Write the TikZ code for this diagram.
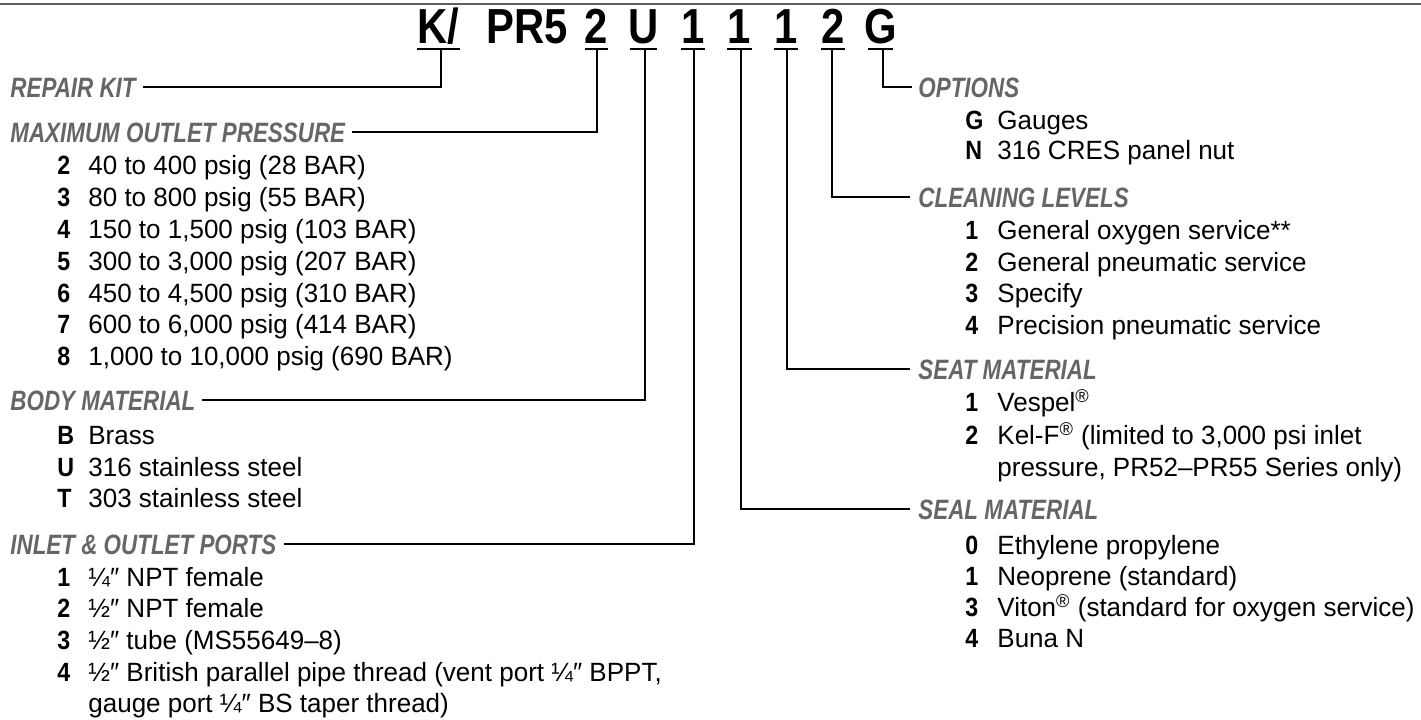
\documentclass[tikz,border=0pt]{standalone}
\usepackage{fontspec}
\setmainfont{Liberation Sans}
\newfontfamily\bodyf[FakeStretch=0.985]{Liberation Sans}
\newfontfamily\numf[FakeStretch=0.88]{Liberation Sans}
\newfontfamily\labf[FakeStretch=0.8]{Liberation Sans}
\newfontfamily\codef[FakeStretch=0.85]{Liberation Sans}
\definecolor{labgray}{RGB}{102,102,102}
\definecolor{rulegray}{RGB}{95,95,95}
\newcommand\reg{\textsuperscript{®}}
\begin{document}
\begin{tikzpicture}[x=0.5pt,y=-0.5pt,
  lab/.style={font=\labf\bfseries\itshape\fontsize{14}{16}\selectfont, text=labgray, inner sep=0pt, anchor=base west},
  num/.style={font=\numf\bfseries\fontsize{13.2}{15}\selectfont, inner sep=0pt, anchor=base west},
  txt/.style={font=\bodyf\fontsize{13.2}{15}\selectfont, inner sep=0pt, anchor=base west},
  code/.style={font=\codef\bfseries\fontsize{24.6}{28}\selectfont, inner sep=0pt, anchor=base},
  conn/.style={line width=0.9pt, draw=black},
  uline/.style={line width=1.1pt, draw=black},
  rulestyle/.style={line width=1.1pt, draw=rulegray}]
\useasboundingbox (0,0) rectangle (1421,719);
% top rule
\draw[rulestyle] (0,4) -- (1421,4);
% code characters
\node[code] (cK)  at (438.5,43) {K/};
\node[code] (cPR) at (527.5,43) {PR5};
\node[code] (c2)  at (596.5,43) {2};
\node[code] (cU)  at (643.5,43) {U};
\node[code] (c1a) at (693,43) {1};
\node[code] (c1b) at (739.5,43) {1};
\node[code] (c1c) at (786,43) {1};
\node[code] (c2b) at (833,43) {2};
\node[code] (cG)  at (880.5,43) {G};
% underlines
\draw[uline] (417,49) -- (460,49);
\draw[uline] (585,49) -- (608,49);
\draw[uline] (630,49) -- (657,49);
\draw[uline] (681,49) -- (705,49);
\draw[uline] (727,49) -- (752,49);
\draw[uline] (774,49) -- (798,49);
\draw[uline] (821,49) -- (845,49);
\draw[uline] (868,49) -- (893,49);
\coordinate (tK)  at (441,49);
\coordinate (t2)  at (597,49);
\coordinate (tU)  at (645,49);
\coordinate (t1a) at (694,49);
\coordinate (t1b) at (741,49);
\coordinate (t1c) at (787,49);
\coordinate (t2b) at (832,49);
\coordinate (tG)  at (883,49);
% ---------- left labels ----------
\node[lab] (repair) at (10,97) {REPAIR KIT};
\node[lab] (maxp)   at (10,142) {MAXIMUM OUTLET PRESSURE};
\node[num] (p2n) at (57,174) {2}; \node[txt] (p2t) at (88,174) {40 to 400 psig (28 BAR)};
\node[num] (p3n) at (57,206) {3}; \node[txt] (p3t) at (88,206) {80 to 800 psig (55 BAR)};
\node[num] (p4n) at (57,238) {4}; \node[txt] (p4t) at (88,238) {150 to 1,500 psig (103 BAR)};
\node[num] (p5n) at (57,270) {5}; \node[txt] (p5t) at (88,270) {300 to 3,000 psig (207 BAR)};
\node[num] (p6n) at (57,302) {6}; \node[txt] (p6t) at (88,302) {450 to 4,500 psig (310 BAR)};
\node[num] (p7n) at (57,333) {7}; \node[txt] (p7t) at (88,333) {600 to 6,000 psig (414 BAR)};
\node[num] (p8n) at (57,365) {8}; \node[txt] (p8t) at (88,365) {1,000 to 10,000 psig (690 BAR)};
\node[lab] (body) at (10,410) {BODY MATERIAL};
\node[num] (bBn) at (57,444) {B}; \node[txt] (bBt) at (88,444) {Brass};
\node[num] (bUn) at (57,476) {U}; \node[txt] (bUt) at (88,476) {316 stainless steel};
\node[num] (bTn) at (57,507) {T}; \node[txt] (bTt) at (88,507) {303 stainless steel};
\node[lab] (inlet) at (10,554) {INLET \& OUTLET PORTS};
\node[num] (i1n) at (57,586) {1}; \node[txt] (i1t) at (88,586) {¼″ NPT female};
\node[num] (i2n) at (57,617) {2}; \node[txt] (i2t) at (88,617) {½″ NPT female};
\node[num] (i3n) at (57,649) {3}; \node[txt] (i3t) at (88,649) {½″ tube (MS55649–8)};
\node[num] (i4n) at (57,681) {4}; \node[txt] (i4t) at (88,681) {½″ British parallel pipe thread (vent port ¼″ BPPT,};
\node[txt] (i4u) at (88,712) {gauge port ¼″ BS taper thread)};
% ---------- right labels ----------
\node[lab] (opt) at (918,97) {OPTIONS};
\node[num] (oGn) at (965,129) {G}; \node[txt] (oGt) at (997,129) {Gauges};
\node[num] (oNn) at (965,159) {N}; \node[txt] (oNt) at (997,159) {316 CRES panel nut};
\node[lab] (clean) at (918,207) {CLEANING LEVELS};
\node[num] (c1n) at (965,239) {1}; \node[txt] (c1t) at (997,239) {General oxygen service**};
\node[num] (c2n) at (965,271) {2}; \node[txt] (c2t) at (997,271) {General pneumatic service};
\node[num] (c3n) at (965,302) {3}; \node[txt] (c3t) at (997,302) {Specify};
\node[num] (c4n) at (965,334) {4}; \node[txt] (c4t) at (997,334) {Precision pneumatic service};
\node[lab] (seat) at (918,379) {SEAT MATERIAL};
\node[num] (s1n) at (965,411) {1}; \node[txt] (s1t) at (997,411) {Vespel\reg};
\node[num] (s2n) at (965,444) {2}; \node[txt] (s2t) at (997,444) {Kel-F\reg{} (limited to 3,000 psi inlet};
\node[txt] (s2u) at (997,476) {pressure, PR52–PR55 Series only)};
\node[lab] (seal) at (918,519) {SEAL MATERIAL};
\node[num] (e0n) at (965,554) {0}; \node[txt] (e0t) at (997,554) {Ethylene propylene};
\node[num] (e1n) at (965,585) {1}; \node[txt] (e1t) at (997,585) {Neoprene (standard)};
\node[num] (e3n) at (965,616) {3}; \node[txt] (e3t) at (997,616) {Viton\reg{} (standard for oxygen service)};
\node[num] (e4n) at (965,647) {4}; \node[txt] (e4t) at (997,647) {Buna N};
% ---------- connectors ----------
\draw[conn] (tK)  |- ([xshift=3.5pt]repair.east);
\draw[conn] (t2)  |- ([xshift=3pt]maxp.east);
\draw[conn] (tU)  |- ([xshift=3pt]body.east);
\draw[conn] (t1a) |- ([xshift=3.5pt]inlet.east);
\draw[conn] (t1b) |- ([xshift=-4pt]seal.west);
\draw[conn] (t1c) |- ([xshift=-4pt]seat.west);
\draw[conn] (t2b) |- ([xshift=-4pt]clean.west);
\draw[conn] (tG)  |- ([xshift=-3pt]opt.west);
\end{tikzpicture}
\end{document}
